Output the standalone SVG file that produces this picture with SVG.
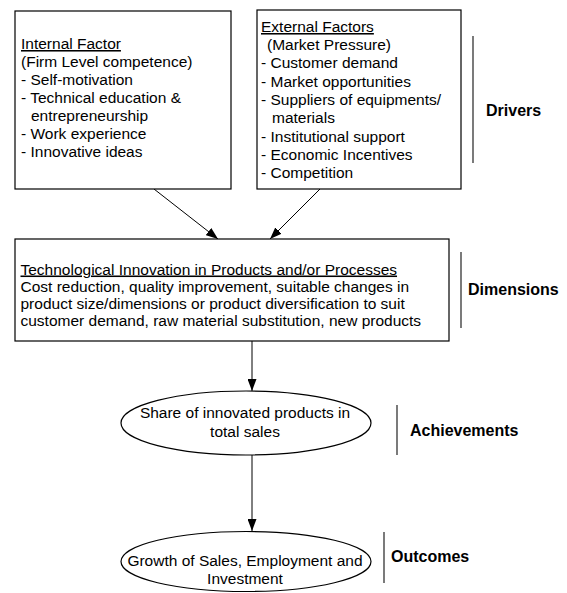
<svg xmlns="http://www.w3.org/2000/svg" width="567" height="593" viewBox="0 0 567 593">
<style>
  .t { font-family: "Liberation Sans", Arial, sans-serif; font-size: 15.5px; fill: #000; }
  .u { text-decoration: underline; }
  .b { font-family: "Liberation Sans", Arial, sans-serif; font-size: 16px; font-weight: bold; fill: #000; }
  .box { fill: #fff; stroke: #000; stroke-width: 1.2; }
  .bar { stroke: #222; stroke-width: 1.2; fill: none; }
  .conn { stroke: #000; stroke-width: 1; fill: none; marker-end: url(#ah); }
</style>
<defs>
  <marker id="ah" viewBox="0 0 12 9" refX="12" refY="4.5" markerWidth="12" markerHeight="9" markerUnits="userSpaceOnUse" orient="auto">
    <path d="M0,0 L12,4.5 L0,9 Z" fill="#000"/>
  </marker>
</defs>
<rect width="567" height="593" fill="#fff"/>

<g id="connectors">
  <line class="conn" x1="154" y1="189" x2="218" y2="239"/>
  <line class="conn" x1="320" y1="189" x2="270" y2="239"/>
  <line class="conn" x1="252" y1="341" x2="252" y2="391"/>
  <line class="conn" x1="252" y1="455" x2="252" y2="531"/>
</g>

<g id="internal">
  <rect class="box" x="15" y="11" width="216" height="178"/>
  <text class="t u" x="21" y="49">Internal Factor</text>
  <text class="t" x="21" y="67">(Firm Level competence)</text>
  <text class="t" x="21" y="85">- Self-motivation</text>
  <text class="t" x="21" y="103">- Technical education &amp;</text>
  <text class="t" x="31" y="121">entrepreneurship</text>
  <text class="t" x="21" y="139">- Work experience</text>
  <text class="t" x="21" y="157">- Innovative ideas</text>
</g>

<g id="external">
  <rect class="box" x="257" y="10" width="204" height="179"/>
  <text class="t u" x="261" y="32">External Factors</text>
  <text class="t" x="267" y="50">(Market Pressure)</text>
  <text class="t" x="261" y="68.3">- Customer demand</text>
  <text class="t" x="261" y="86.6">- Market opportunities</text>
  <text class="t" x="261" y="104.9">- Suppliers of equipments/</text>
  <text class="t" x="272" y="123.2">materials</text>
  <text class="t" x="261" y="141.5">- Institutional support</text>
  <text class="t" x="261" y="159.8">- Economic Incentives</text>
  <text class="t" x="261" y="178.1">- Competition</text>
</g>

<g id="drivers">
  <line class="bar" x1="473" y1="36" x2="473" y2="163"/>
  <text class="b" x="486" y="116">Drivers</text>
</g>

<g id="innovation">
  <rect class="box" x="15" y="239" width="434" height="102"/>
  <text class="t u" x="20.5" y="274.5">Technological Innovation in Products and/or Processes</text>
  <text class="t" x="20.5" y="291.8">Cost reduction, quality improvement, suitable changes in</text>
  <text class="t" x="20.5" y="309.1">product size/dimensions or product diversification to suit</text>
  <text class="t" x="20.5" y="326.4">customer demand, raw material substitution, new products</text>
</g>

<g id="dimensions">
  <line class="bar" x1="461" y1="252" x2="461" y2="328"/>
  <text class="b" x="468" y="295">Dimensions</text>
</g>

<g id="share">
  <ellipse class="box" cx="246" cy="423" rx="125" ry="32"/>
  <text class="t" x="245" y="418" text-anchor="middle">Share of innovated products in</text>
  <text class="t" x="245" y="436.5" text-anchor="middle">total sales</text>
</g>

<g id="achievements">
  <line class="bar" x1="397" y1="405" x2="397" y2="455"/>
  <text class="b" x="410" y="436">Achievements</text>
</g>

<g id="growth">
  <ellipse class="box" cx="246" cy="561.5" rx="125" ry="30"/>
  <text class="t" x="245" y="566" text-anchor="middle">Growth of Sales, Employment and</text>
  <text class="t" x="245" y="584" text-anchor="middle">Investment</text>
</g>

<g id="outcomes">
  <line class="bar" x1="384" y1="532" x2="384" y2="583"/>
  <text class="b" x="391" y="562">Outcomes</text>
</g>
</svg>
